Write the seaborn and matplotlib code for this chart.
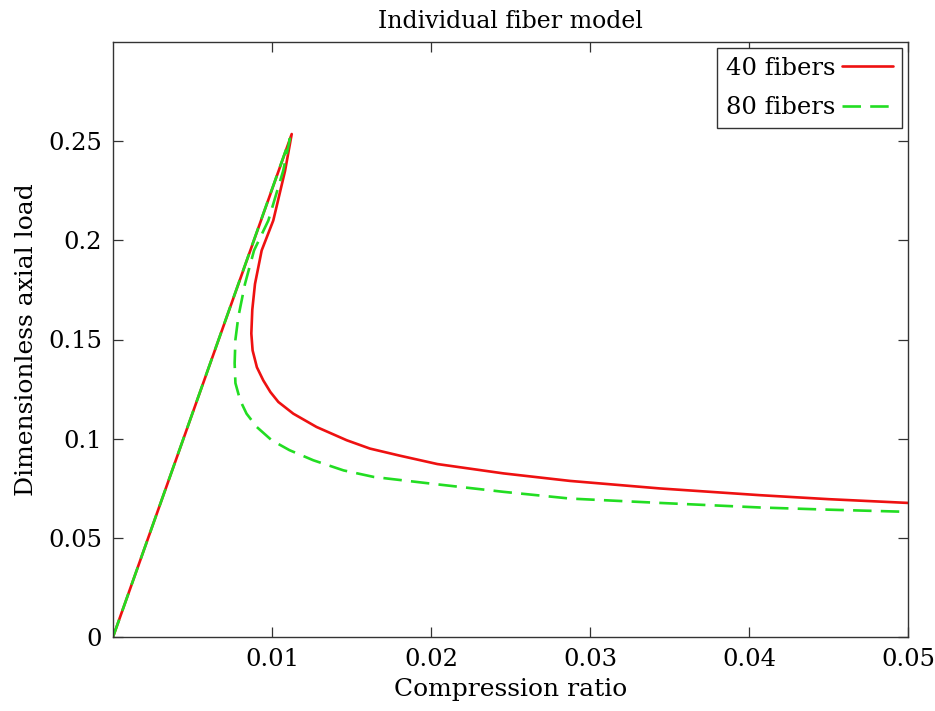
import numpy as np
import pandas as pd
import matplotlib
matplotlib.use("Agg")
import matplotlib.pyplot as plt
import seaborn as sns

# Data
x40 = [0.0, 0.01124, 0.01082, 0.01008, 0.00935, 0.00893, 0.00876, 0.00870, 0.00878,
       0.00905, 0.00945, 0.0099, 0.0104, 0.01134, 0.0128, 0.0147, 0.01616, 0.0180, 0.0204,
       0.02455, 0.02874, 0.0344, 0.0407, 0.0450, 0.0500]
y40 = [0.0, 0.2536, 0.235, 0.210, 0.1949, 0.178, 0.165, 0.153, 0.1445,
       0.136, 0.1294, 0.1235, 0.1185, 0.1126, 0.1059, 0.0992, 0.0950, 0.0915, 0.0872,
       0.0825, 0.0787, 0.0749, 0.0715, 0.0695, 0.0676]
x80 = [0.0, 0.01113, 0.0107, 0.00977, 0.00887, 0.0083, 0.00788, 0.00770, 0.00765,
       0.00770, 0.0080, 0.0084, 0.00904, 0.00998, 0.0111, 0.0126, 0.0145, 0.0164,
       0.02036, 0.02455, 0.02874, 0.0344, 0.0407, 0.0450, 0.0500]
y80 = [0.0, 0.2513, 0.235, 0.210, 0.1949, 0.178, 0.1613, 0.150, 0.138,
       0.128, 0.1193, 0.1126, 0.1059, 0.0992, 0.0942, 0.0891, 0.084, 0.0807,
       0.0770, 0.0732, 0.0698, 0.0676, 0.0653, 0.0642, 0.0631]
labels = ["40 fibers", "80 fibers"]
xticks = [0.01, 0.02, 0.03, 0.04, 0.05]
xticklabels = ["0.01", "0.02", "0.03", "0.04", "0.05"]
yticks = [0, 0.05, 0.1, 0.15, 0.2, 0.25]
yticklabels = ["0", "0.05", "0.1", "0.15", "0.2", "0.25"]

df = pd.concat([
    pd.DataFrame({"x": x40, "y": y40, "series": labels[0], "order": range(len(x40))}),
    pd.DataFrame({"x": x80, "y": y80, "series": labels[1], "order": range(len(x80))}),
])

sns.set_theme(style="white")
plt.rcParams['font.family'] = ['DejaVu Serif']
plt.rcParams['text.color'] = 'black'
plt.rcParams['axes.labelcolor'] = 'black'

fig = plt.figure(figsize=(9.35, 7.11), dpi=100)
ax = fig.add_axes([113/935, 74/711, (908-113)/935, (637-42)/711])

palette = {labels[0]: "#ee1111", labels[1]: "#22dd22"}
sns.lineplot(data=df, x="x", y="y", hue="series", style="series", palette=palette,
             dashes={labels[0]: "", labels[1]: (7, 3.5)}, sort=False, estimator=None,
             linewidth=1.9, ax=ax, legend=True)

ax.set_xlim(0, 0.05)
ax.set_ylim(0, 0.3)
ax.set_xticks(xticks)
ax.set_xticklabels(xticklabels)
ax.set_yticks(yticks)
ax.set_yticklabels(yticklabels)
ax.tick_params(direction="in", length=7, width=0.9, colors="#333333", labelcolor="black",
               labelsize=17.5, top=True, right=True, bottom=True, left=True, pad=8)
for s in ax.spines.values():
    s.set_color("#333333")
    s.set_linewidth(1.0)
ax.set_xlabel("Compression ratio", fontsize=18, labelpad=5)
ax.set_ylabel("Dimensionless axial load", fontsize=18, labelpad=7)
ax.set_title("Individual fiber model", fontsize=17, pad=10, color="black")

handles, lbls = ax.get_legend_handles_labels()
leg = ax.legend(handles, lbls, loc="upper right", markerfirst=False, fontsize=17.5,
                frameon=True, fancybox=False, edgecolor="#333333", framealpha=1,
                handlelength=2.1, borderpad=0.35, labelspacing=0.68, handletextpad=0.3,
                borderaxespad=0.25)
leg.get_frame().set_linewidth(1.0)
for t in leg.get_texts():
    t.set_color("black")

fig.savefig("out.png", dpi=100, facecolor="white")
